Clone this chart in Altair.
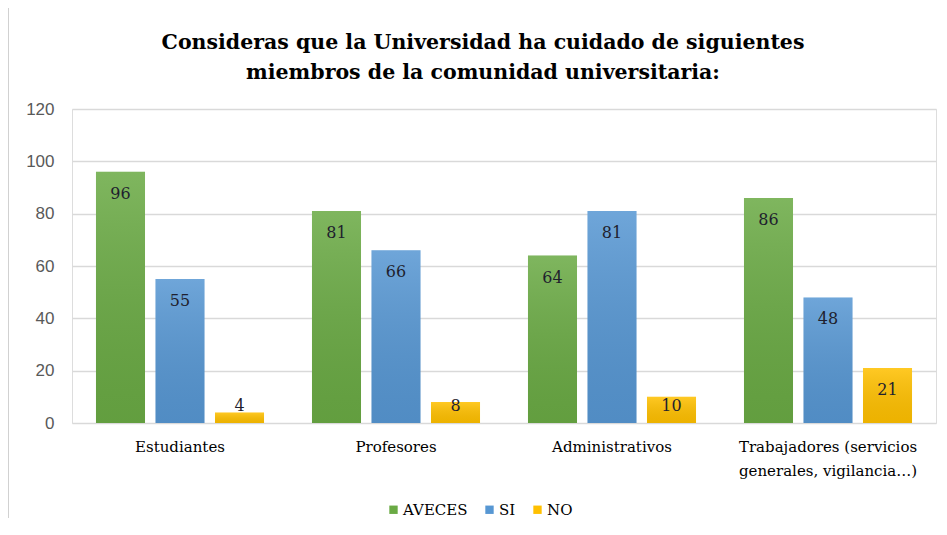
import altair as alt
import pandas as pd

categorias = ["Estudiantes", "Profesores", "Administrativos",
              "Trabajadores (servicios generales, vigilancia…)"]
series = ["AVECES", "SI", "NO"]
aveces = [96, 81, 64, 86]
si = [55, 66, 81, 48]
no = [4, 8, 10, 21]
colores = ["#6aaa44", "#5797d3", "#ffc000"]

SERIF = "DejaVu Serif"

rows = []
for i, c in enumerate(categorias):
    for s, vals in zip(series, [aveces, si, no]):
        rows.append({"categoria": c, "serie": s, "valor": vals[i]})
df = pd.DataFrame(rows)

x = alt.X("categoria:N", sort=categorias, title=None,
          scale=alt.Scale(paddingInner=0.222, paddingOuter=0.111),
          axis=alt.Axis(labelAngle=0, labelFont=SERIF, labelFontSize=15,
                        labelColor="#000000", labelPadding=16, ticks=False, domain=False,
                        labelLineHeight=24,
                        labelExpr="datum.value == 'Trabajadores (servicios generales, vigilancia…)' ? ['Trabajadores (servicios', 'generales, vigilancia…)'] : datum.label"))
xo = alt.XOffset("serie:N", sort=series,
                 scale=alt.Scale(domain=series, paddingInner=0.176, paddingOuter=0))
y = alt.Y("valor:Q", title=None,
          scale=alt.Scale(domain=[0, 120]),
          axis=alt.Axis(values=[0, 20, 40, 60, 80, 100, 120], labelFont="Liberation Sans",
                        labelFontSize=17, labelColor="#595959", labelPadding=18,
                        ticks=False, domain=False, gridColor="#d9d9d9", gridWidth=1.3))

base = alt.Chart(df)

bars = base.mark_bar().encode(
    x=x, xOffset=xo, y=y,
    color=alt.Color("serie:N", sort=series,
                    scale=alt.Scale(domain=series, range=colores),
                    legend=alt.Legend(title=None, orient="none", direction="horizontal",
                                      legendX=314, legendY=393, symbolType="square",
                                      symbolSize=70, symbolStrokeWidth=0,
                                      labelFont=SERIF, labelFontSize=15,
                                      labelColor="#000000", columnPadding=14,
                                      symbolOffset=0, labelOffset=2))
)

shade = base.mark_bar(
    fill=alt.Gradient(gradient="linear", x1=0, y1=0, x2=0, y2=1,
                      stops=[alt.GradientStop(offset=0, color="rgba(255,255,255,0.14)"),
                             alt.GradientStop(offset=1, color="rgba(0,0,0,0.07)")])
).encode(x=x, xOffset=xo, y=y)

labels = base.transform_calculate(
    ypos="max(datum.valor - 8.4, 6.4)"
).mark_text(font=SERIF, fontSize=16, color="#1f1f2e", baseline="middle").encode(
    x=x, xOffset=xo,
    y=alt.Y("ypos:Q", scale=alt.Scale(domain=[0, 120])),
    text="valor:Q"
)

left_border = alt.Chart(df).mark_rule(color="#d0d0d0", strokeWidth=1.5).encode(
    x=alt.value(-64), y=alt.value(-102), y2=alt.value(420))
top_border = alt.Chart(df).mark_rule(color="#e6e6e6", strokeWidth=5).encode(
    x=alt.value(-72), x2=alt.value(870), y=alt.value(-106))

chart = alt.layer(bars, shade, labels, left_border, top_border).properties(
    width=864, height=314,
    title=alt.TitleParams(
        text=["Consideras que la Universidad ha cuidado de siguientes",
              "miembros de la comunidad universitaria:"],
        font=SERIF, fontSize=20.5, fontWeight="bold", color="#000000",
        anchor="middle", dx=-21, offset=-83, lineHeight=30),
    padding={"left": 64, "top": 101, "right": 3, "bottom": 95},
    autosize=alt.AutoSizeParams(type="none")
).configure_view(stroke=None).configure(background="#ffffff")

chart.save("out.html", embed_options={"renderer": "svg", "actions": False})
